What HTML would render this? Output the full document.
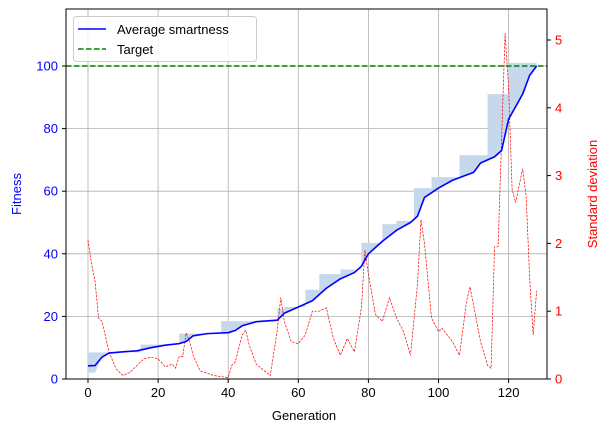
<!DOCTYPE html>
<html><head><meta charset="utf-8"><style>
html,body{margin:0;padding:0;background:#fff;}
svg{display:block;font-family:"Liberation Sans","DejaVu Sans",sans-serif;}
</style></head><body>
<svg id="chart" width="609" height="432" xmlns="http://www.w3.org/2000/svg">
<rect width="609" height="432" fill="#fff"/>
<g id="grid"></g>
<g id="band"></g>
<g id="stdg"></g>
<g id="avgg"></g>
<line x1="66" x2="547" y1="66" y2="66" stroke="#008000" stroke-width="1.5" stroke-dasharray="5.5,2.5"/>
<rect x="66" y="9" width="481" height="370" fill="none" stroke="#000" stroke-width="1"/>
<g id="axes"></g>
<text x="304" y="420" font-size="13" text-anchor="middle">Generation</text>
<text transform="translate(21,194) rotate(-90)" font-size="13" fill="#0000ff" text-anchor="middle">Fitness</text>
<text transform="translate(597,194) rotate(-90)" font-size="13" fill="#ff0000" text-anchor="middle">Standard deviation</text>
<g>
<rect x="73.5" y="16.5" width="183" height="45" rx="3" fill="#fff" fill-opacity="0.8" stroke="#ccc"/>
<line x1="78" x2="106" y1="29" y2="29" stroke="#0000ff" stroke-width="1.5"/>
<text x="117" y="34" font-size="13">Average smartness</text>
<line x1="78" x2="106" y1="49" y2="49" stroke="#008000" stroke-width="1.5" stroke-dasharray="5.5,2.5"/>
<text x="117" y="54" font-size="13">Target</text>
</g>
</svg>
<script>
const avgGen=[0,2,4,6,10,14,18,22,26,28,30,34,40,42,44,48,54,56,60,64,68,72,76,78,80,84,88,92,94,96,100,104,110,112,116,118,120,124,126,128];
const avgVal=[4.2,4.3,7,8.3,8.7,9,10,10.8,11.3,12,13.8,14.5,14.8,15.5,17,18.3,18.8,21,23,25,29,32,34,36,40,44,47.5,50,52,58,61,63.5,66,69,71,73,83,91,97,100];
const maxGen=[0,15,26,38,54,56,62,66,72,78,84,88,93,98,106,114,120,127,128];
const maxVal=[8.5,11,14.5,18.5,22.5,23,28.5,33.5,35,43.5,49.5,50.5,61,64.5,71.5,91,101,101,112];
const stdGen=[0,1,2,3,4,6,8,10,12,14,16,18,20,22,24,25,26,27,28,29,30,32,36,40,41,42,44,45,46,48,52,54,55,56,58,60,62,64,66,68,70,72,74,76,78,79,80,82,84,86,88,90,92,94,95,96,98,100,101,104,106,108,109,112,114,115,116,117,119,120,121,122,124,125,126,127,128];
const stdVal=[2.05,1.7,1.45,0.9,0.85,0.4,0.15,0.05,0.1,0.2,0.3,0.32,0.3,0.18,0.22,0.16,0.33,0.33,0.68,0.55,0.35,0.12,0.05,0.02,0.2,0.25,0.65,0.72,0.5,0.22,0.05,0.72,1.2,0.85,0.55,0.52,0.65,1.0,1.0,1.05,0.6,0.35,0.6,0.4,1.05,1.9,1.55,0.95,0.85,1.2,0.9,0.7,0.35,1.4,2.35,2.0,0.9,0.7,0.75,0.55,0.35,1.15,1.36,0.55,0.2,0.16,1.95,1.95,5.1,4.3,2.8,2.6,3.1,2.7,1.5,0.65,1.3];
const xTicks=[0,20,40,60,80,100,120];
const yTicks=[0,20,40,60,80,100];
const y2Ticks=[0,1,2,3,4,5];
const NS="http://www.w3.org/2000/svg";
const X=g=>88+g*3.505, Y=v=>379-v*3.13, Y2=v=>379-v*67.8;
function mk(t,a,p){const e=document.createElementNS(NS,t);for(const k in a)e.setAttribute(k,a[k]);p.appendChild(e);return e;}
const grid=document.getElementById('grid'),axes=document.getElementById('axes');
xTicks.forEach(t=>{
 const l=mk('line',{x1:X(t),x2:X(t),y1:9,y2:379,stroke:'#b0b0b0','stroke-width':0.8},grid);
 
 
 mk('line',{x1:X(t),x2:X(t),y1:379,y2:383,stroke:'#000'},axes);
 const s=mk('text',{x:X(t),y:397,'font-size':13,'text-anchor':'middle'},axes);s.textContent=t;
 
 
});
yTicks.forEach(t=>{
 const l=mk('line',{x1:66,x2:547,y1:Y(t),y2:Y(t),stroke:'#b0b0b0','stroke-width':0.8},grid);
 
 
 mk('line',{x1:62,x2:66,y1:Y(t),y2:Y(t),stroke:'#000'},axes);
 const s=mk('text',{x:58,y:Y(t)+4.5,'font-size':13,'text-anchor':'end',fill:'#0000ff'},axes);s.textContent=t;
 
 
});
y2Ticks.forEach(t=>{
 mk('line',{x1:547,x2:551,y1:Y2(t),y2:Y2(t),stroke:'#000'},axes);
 const s=mk('text',{x:555,y:Y2(t)+4.5,'font-size':13,fill:'#ff0000'},axes);s.textContent=t;
 
 
});
let topPts=[];
for(let i=0;i<maxGen.length;i++){
 if(i>0)topPts.push([X(maxGen[i]),Y(maxVal[i-1])]);
 topPts.push([X(maxGen[i]),Y(maxVal[i])]);
}
let botPts=avgGen.map((g,i)=>[X(g),Y(i<2?2:avgVal[i])]).reverse();
const bp=mk('polygon',{points:topPts.concat(botPts).map(p=>p.join(',')).join(' '),fill:'#c6d9ec'},document.getElementById('band'));


const sp=mk('polyline',{points:stdGen.map((g,i)=>X(g)+','+Y2(stdVal[i])).join(' '),fill:'none',stroke:'#ff0000','stroke-width':0.7,'stroke-dasharray':'2.5,1.2'},document.getElementById('stdg'));


const ap=mk('polyline',{points:avgGen.map((g,i)=>X(g)+','+Y(avgVal[i])).join(' '),fill:'none',stroke:'#0000ff','stroke-width':1.6,'stroke-linejoin':'round'},document.getElementById('avgg'));


</script>
</body></html>
